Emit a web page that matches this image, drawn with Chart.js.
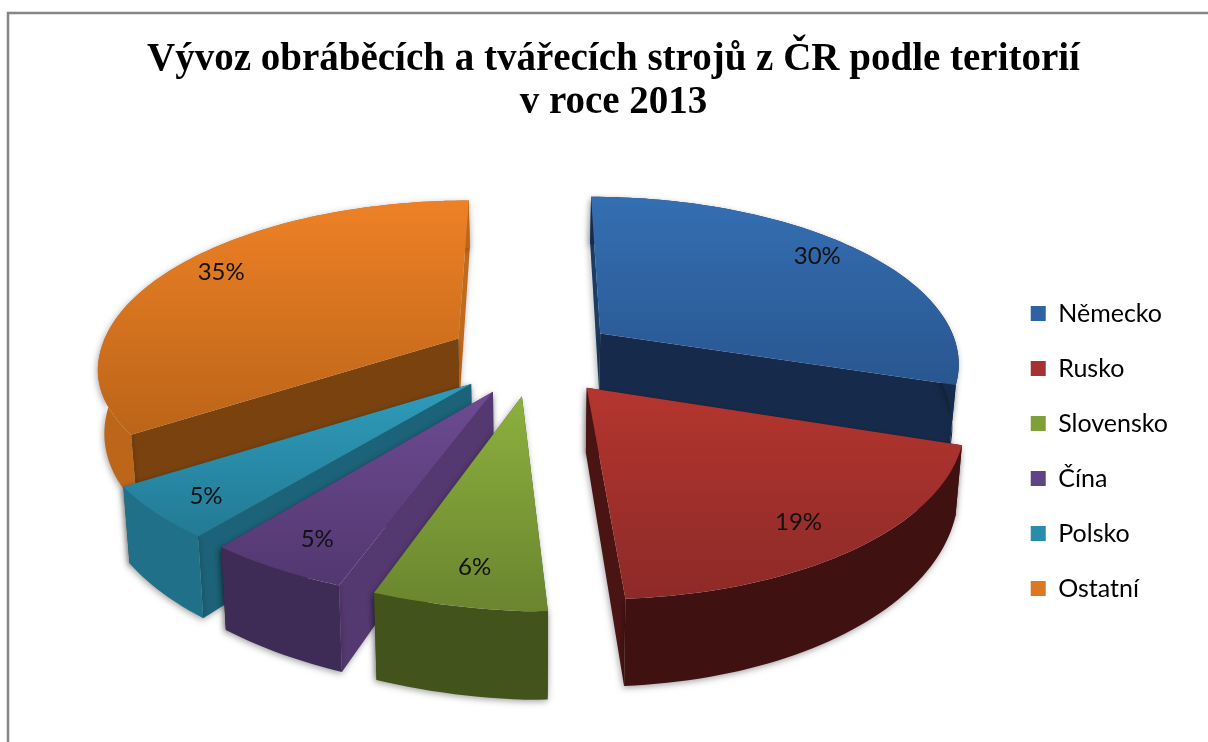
<!DOCTYPE html>
<html><head><meta charset="utf-8">
<style>html,body{margin:0;padding:0;background:#fff}canvas{display:block}</style>
<script src="https://cdn.jsdelivr.net/npm/chart.js@4"></script>
</head><body><canvas id="c" width="1208" height="742"></canvas>
<script>
const categories = ['Německo','Rusko','Slovensko','Čína','Polsko','Ostatní'];
const shares = [30,19,6,5,5,35];
const titleLines = ['Vývoz obráběcích a tvářecích strojů z ČR podle teritorií','v roce 2013'];

const faceTop    = ['#346fb3','#b5352f','#8cb03e','#6d4b92','#2e9cbc','#ee8126'];
const faceBottom = ['#29568f','#8c2a27','#6a852e','#523770','#237a94','#bb6418'];
const legendFill = ['#2e62a3','#a53230','#7f9f38','#604384','#2a8cab','#dd7822'];
const startWall  = ['#1d3c63','#3f1110','#455a1c','#543870','#1c6278','#7a420f'];
const endWall    = ['#162b4b','#4a1413','#455a1c','#3e2a56','#1c6278','#c06a1c'];
const outerWall  = ['#162b4b','#3f1110','#42541b','#3e2b56','#21708a','#bd661a'];
const labelFrac  = [0.84,0.80,0.80,0.84,0.88,0.80];
const labelShift = [[0,-5],[2,10],[0,9],[0,3],[7,0],[-3,-11]];

const camera = {cx:533, cy:356, tilt:0.46, persp:0.00045, skewX:3.6e-7, skewY:0.00012,
                wallHeight:62, wallPow:1.6, wallShrink:0.985};

function project(X, Y){
  const s = 1/(1 - camera.persp*Y);
  const l = Math.max(0,-X), f = Math.max(0,Y);
  return {x: camera.cx + X*s - camera.skewX*l*f*f,
          y: camera.cy + Y*camera.tilt*s - camera.skewY*l*f, s};
}
function lower(p){
  return {x: camera.cx + (p.x-camera.cx)*camera.wallShrink, y: p.y + camera.wallHeight*Math.pow(p.s,camera.wallPow)};
}
function geom(arc){
  const {startAngle,endAngle,outerRadius} = arc.getProps(['startAngle','endAngle','outerRadius'],true);
  const mid=(startAngle+endAngle)/2, off=(arc.options.offset||0)/4;
  const ox=Math.cos(mid)*off, oy=Math.sin(mid)*off;
  const pt=(a,r)=>project(ox+Math.cos(a)*r, oy+Math.sin(a)*r);
  return {startAngle,endAngle,outerRadius,mid,ox,oy,pt};
}
function poly(ctx,pts,fill){
  ctx.beginPath();
  pts.forEach((p,i)=>i?ctx.lineTo(p.x,p.y):ctx.moveTo(p.x,p.y));
  ctx.closePath();
  ctx.fillStyle=fill; ctx.fill();
}
const pie3d = {
  id:'pie3d',
  beforeDraw(chart){
    const ctx=chart.ctx;
    ctx.save();
    ctx.fillStyle='#fff'; ctx.fillRect(0,0,chart.width,chart.height);
    ctx.strokeStyle='#868686'; ctx.lineWidth=2.5;
    ctx.strokeRect(8,13,chart.width+40,chart.height+40);
    ctx.restore();
  },
  beforeDatasetDraw(chart,args){
    const ctx=chart.ctx, arcs=args.meta.data;
    const order=arcs.map((a,i)=>i).sort((a,b)=>geom(arcs[a]).oy-geom(arcs[b]).oy);
    order.forEach(i=>{
      const g=geom(arcs[i]), R=g.outerRadius, n=Math.max(8,Math.round((g.endAngle-g.startAngle)*40));
      const arcPts=[];
      for(let k=0;k<=n;k++) arcPts.push(g.pt(g.startAngle+(g.endAngle-g.startAngle)*k/n,R));
      const apex=g.pt(0,0), first=arcPts[0], last=arcPts[n];
      const drawStart=()=>poly(ctx,[apex,first,lower(first),lower(apex)],startWall[i]);
      const drawEnd=()=>poly(ctx,[apex,last,lower(last),lower(apex)],endWall[i]);
      ctx.save();
      ctx.shadowColor='rgba(0,0,0,0.35)'; ctx.shadowBlur=6; ctx.shadowOffsetX=-1; ctx.shadowOffsetY=2;
      if(first.y>last.y){drawEnd();drawStart();}else{drawStart();drawEnd();}
      poly(ctx,[...arcPts,...arcPts.slice().reverse().map(lower)],outerWall[i]);
      ctx.restore();
      let minY=apex.y,maxY=apex.y;
      arcPts.forEach(p=>{minY=Math.min(minY,p.y);maxY=Math.max(maxY,p.y);});
      const grad=ctx.createLinearGradient(0,minY,0,maxY);
      grad.addColorStop(0,arcs[i].options.backgroundColor);
      grad.addColorStop(1,faceBottom[i]);
      poly(ctx,[apex,...arcPts],grad);
    });
    return false;
  },
  afterDatasetsDraw(chart){
    const ctx=chart.ctx, arcs=chart.getDatasetMeta(0).data;
    ctx.save();
    ctx.font='24px Lato'; ctx.fillStyle='#111';
    ctx.textAlign='center'; ctx.textBaseline='middle';
    arcs.forEach((arc,i)=>{
      const g=geom(arc), p=g.pt(g.mid,g.outerRadius*labelFrac[i]);
      ctx.fillText(shares[i]+'%',p.x+labelShift[i][0],p.y+labelShift[i][1]);
    });
    ctx.restore();
  }
};
new Chart(document.getElementById('c'),{
  type:'pie',
  data:{labels:categories,datasets:[{data:shares,backgroundColor:faceTop,borderWidth:0,offset:340,radius:360}]},
  options:{
    responsive:false,animation:false,devicePixelRatio:1,
    layout:{padding:{left:49,right:30}},
    plugins:{
      tooltip:{enabled:false},
      title:{display:true,text:titleLines,color:'#000',padding:{top:39,bottom:36},
        font:{family:'Liberation Serif',weight:'bold',size:39,lineHeight:1.09}},
      legend:{position:'right',align:'center',fullSize:false,
        labels:{boxWidth:15,boxHeight:15,padding:30,color:'#111',font:{family:'Lato',size:25},
          generateLabels(chart){
            return categories.map((t,i)=>({text:t,fillStyle:legendFill[i],strokeStyle:legendFill[i],lineWidth:0,index:i}));
          }}}
    }
  },
  plugins:[pie3d]
});
</script></body></html>
